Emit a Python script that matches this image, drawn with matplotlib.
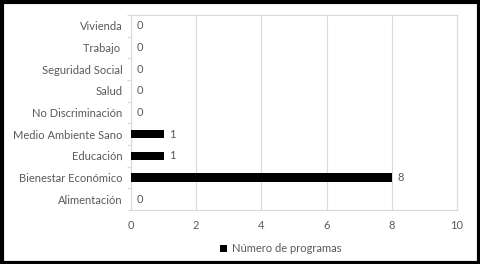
import matplotlib
matplotlib.use("Agg")
import matplotlib.pyplot as plt
from matplotlib.patches import Rectangle

categories = ["Alimentación", "Bienestar Económico", "Educación", "Medio Ambiente Sano",
              "No Discriminación", "Salud", "Seguridad Social", "Trabajo ", "Vivienda"]
values = [0, 8, 1, 1, 0, 0, 0, 0, 0]
x_ticks = [0, 2, 4, 6, 8, 10]
series_name = "Número de programas"

plt.rcParams["font.family"] = ["Lato", "DejaVu Sans"]
text_color = "#595959"
grid_color = "#d9d9d9"
fs = 8

fig = plt.figure(figsize=(4.8, 2.64), dpi=100)
ax = fig.add_axes([131 / 480, 1 - 210 / 264, (457 - 131) / 480, (210 - 15) / 264])

ypos = range(len(categories))
bars = ax.barh(ypos, values, height=0.37, color="black", label=series_name, zorder=3)
ax.bar_label(bars, labels=[str(v) for v in values], padding=4, fontsize=fs, color=text_color)

ax.set_xlim(0, 10)
ax.set_ylim(-0.5, len(categories) - 0.5)
ax.set_xticks(x_ticks)
ax.set_yticks(list(ypos))
ax.set_yticklabels(categories)
ax.set_yticks([i - 0.5 for i in range(len(categories) + 1)], minor=True)
ax.tick_params(axis="y", which="major", length=0, pad=6, labelsize=fs, labelcolor=text_color)
ax.tick_params(axis="y", which="minor", length=3, color=grid_color, width=0.8)
ax.tick_params(axis="x", length=0, pad=7, labelsize=fs, labelcolor=text_color)
ax.grid(axis="x", color=grid_color, linewidth=0.8, zorder=0)
for s in ax.spines.values():
    s.set_color(grid_color)
    s.set_linewidth(0.8)

ax.legend(loc="upper center", bbox_to_anchor=(0.46, -0.12), frameon=False, fontsize=fs,
          handlelength=0.6, handleheight=0.6, handletextpad=0.5, labelcolor=text_color)

fig.patches.append(Rectangle((1.5 / 480, 1.5 / 264), 477 / 480, 261 / 264, transform=fig.transFigure,
                             fill=False, edgecolor="black", linewidth=3))

fig.savefig("out.png", dpi=100)
